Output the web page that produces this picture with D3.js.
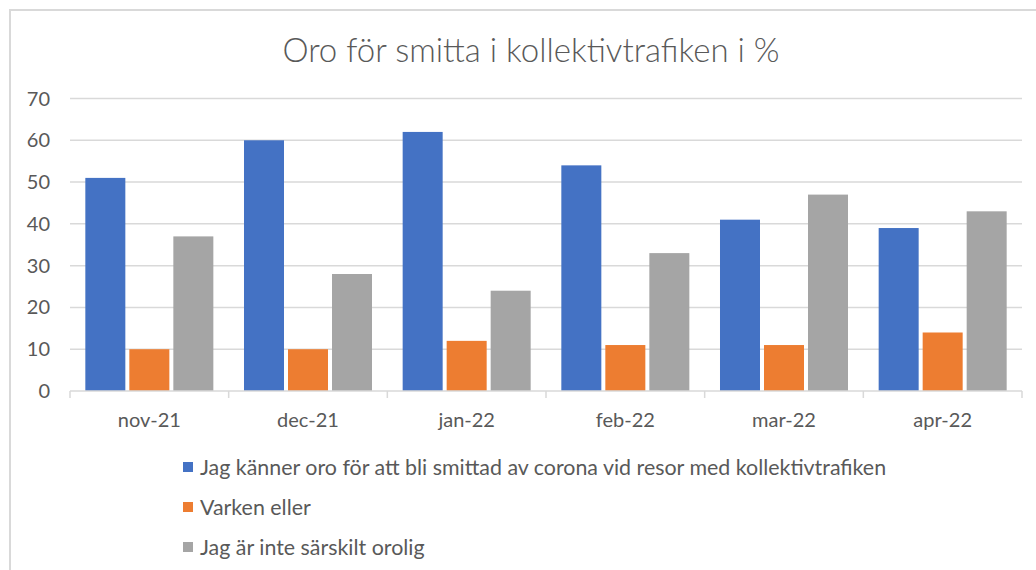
<!DOCTYPE html>
<html><head><meta charset="utf-8">
<script src="https://cdn.jsdelivr.net/npm/d3@7"></script>
<style>
html,body{margin:0;padding:0;background:#fff;}
svg{display:block;font-family:Lato,"Open Sans",sans-serif;}
</style></head>
<body>
<svg id="chart" width="1036" height="570"></svg>
<script>
const categories = ["nov-21","dec-21","jan-22","feb-22","mar-22","apr-22"];
const seriesNames = [
  "Jag känner oro för att bli smittad av corona vid resor med kollektivtrafiken",
  "Varken eller",
  "Jag är inte särskilt orolig"
];
const worried = [51,60,62,54,41,39];
const neither = [10,10,12,11,11,14];
const notWorried = [37,28,24,33,47,43];
const yTicks = [0,10,20,30,40,50,60,70];
const colors = ["#4472C4","#ED7D31","#A5A5A5"];
const title = "Oro för smitta i kollektivtrafiken i %";

const series = [worried, neither, notWorried];
const svg = d3.select("#chart");

// chart border (cropped)
svg.append("path").attr("d","M10,570 L10,10 L1036,10")
  .attr("fill","none").attr("stroke","#d9d9d9").attr("stroke-width",2);

const mLeft = 70, mRight = 1022, mTop = 98.5, mBottom = 391;
const x0 = d3.scaleBand().domain(categories).range([mLeft,mRight]).paddingInner(0.168).paddingOuter(0.084);
const x1 = d3.scaleBand().domain([0,1,2]).range([0,x0.bandwidth()]);
const y = d3.scaleLinear().domain([0,70]).range([mBottom,mTop]);

// gridlines
svg.append("g").selectAll("line").data(yTicks.filter(d=>d>0)).join("line")
  .attr("x1",mLeft).attr("x2",mRight).attr("y1",d=>y(d)).attr("y2",d=>y(d))
  .attr("stroke","#d9d9d9").attr("stroke-width",1.5);

// y labels
svg.append("g").selectAll("text").data(yTicks).join("text")
  .attr("x",50).attr("y",d=>y(d)).attr("dy","0.35em").attr("text-anchor","end")
  .attr("font-size",20).attr("fill","#595959").text(d=>d);

// bars
const g = svg.append("g");
categories.forEach((c,i)=>{
  series.forEach((s,j)=>{
    g.append("rect")
      .attr("x", x0(c)+x1(j)+2)
      .attr("width", x1.bandwidth()-4)
      .attr("y", y(s[i]))
      .attr("height", y(0)-y(s[i]))
      .attr("fill", colors[j]);
  });
});

// x axis
const xAxisG = svg.append("g").attr("transform",`translate(0,${mBottom})`);
xAxisG.append("line").attr("x1",mLeft).attr("x2",mRight).attr("stroke","#d9d9d9").attr("stroke-width",1.5);
const boundaries = categories.map((c,i)=>mLeft + i*(mRight-mLeft)/categories.length).concat([mRight]);
xAxisG.selectAll("line.tick").data(boundaries).join("line").attr("class","tick")
  .attr("x1",d=>d).attr("x2",d=>d).attr("y1",0).attr("y2",7)
  .attr("stroke","#d9d9d9").attr("stroke-width",1.5);
xAxisG.selectAll("text").data(categories).join("text")
  .attr("x",d=>x0(d)+x0.bandwidth()/2).attr("y",29).attr("dy","0.35em")
  .attr("text-anchor","middle").attr("font-size",20).attr("fill","#595959").text(d=>d);

// title
svg.append("text").attr("x",531).attr("y",50).attr("dy","0.35em").attr("text-anchor","middle")
  .attr("font-size",33).attr("font-weight",300).attr("fill","#595959").text(title);

// legend
const leg = svg.append("g").selectAll("g").data(seriesNames).join("g")
  .attr("transform",(d,i)=>`translate(183,${467+i*40})`);
leg.append("rect").attr("x",0).attr("y",-5).attr("width",10).attr("height",10).attr("fill",(d,i)=>colors[i]);
leg.append("text").attr("x",17).attr("y",0).attr("dy","0.35em")
  .attr("font-size",21.4).attr("fill","#595959").text(d=>d);
</script>
</body></html>
